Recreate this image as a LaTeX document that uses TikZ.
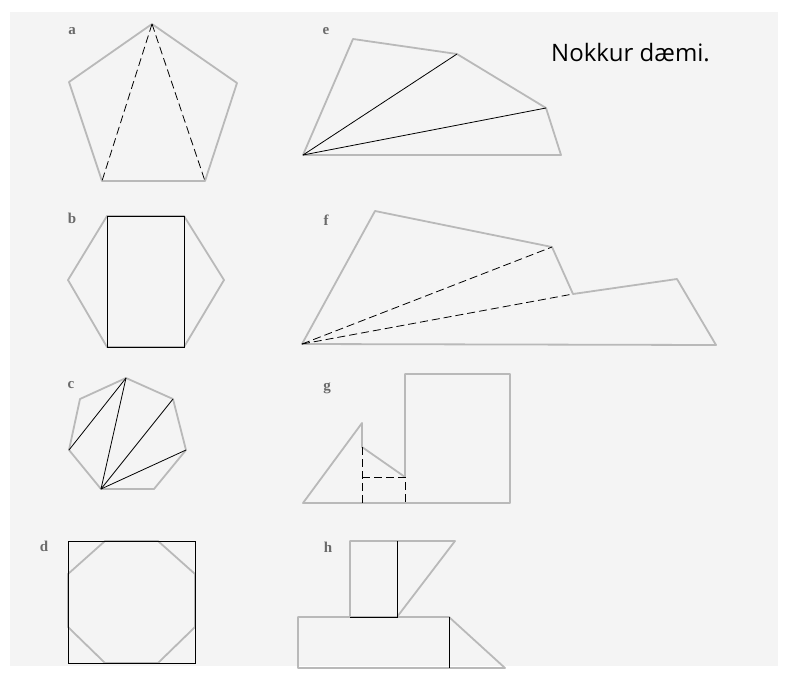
\documentclass[tikz,border=0pt]{standalone}
\usepackage{fontspec}
\newfontfamily\txtfont{Open Sans}
\newfontfamily\lblfont{Liberation Serif}
\definecolor{paper}{HTML}{F4F4F4}
\definecolor{outl}{HTML}{B9B9B9}
\definecolor{lbl}{HTML}{6A6A6A}
\tikzset{
  outline/.style={draw=outl, line width=1.8pt, line join=round},
  blk/.style={draw=black, line width=0.8pt},
  dsh/.style={draw=black, line width=0.8pt, dash pattern=on 8pt off 4pt},
  lab/.style={text=lbl, font=\lblfont\bfseries\fontsize{15}{16}\selectfont, inner sep=0pt},
}
\begin{document}
\begin{tikzpicture}[x=1pt,y=-1pt]
\useasboundingbox (0,0) rectangle (787,675);
\fill[white] (0,0) rectangle (787,675);
\fill[paper] (10,12) rectangle (778,666);

% a: pentagon
\coordinate (aT) at (152,24);
\coordinate (aL) at (69,82);
\coordinate (aR) at (237,83);
\coordinate (aBL) at (102,181);
\coordinate (aBR) at (205,181);
\draw[outline] (aT) -- (aR) -- (aBR) -- (aBL) -- (aL) -- cycle;
\draw[dsh] (aT) -- (aBL);
\draw[dsh] (aT) -- (aBR);
\node[lab] (la) at (72,31) {a};

% b: hexagon with rectangle
\coordinate (bTL) at (107,216);
\coordinate (bTR) at (184,216);
\coordinate (bR) at (224,280);
\coordinate (bBR) at (184,347);
\coordinate (bBL) at (107,347);
\coordinate (bL) at (68,280);
\draw[outline] (bTL) -- (bTR) -- (bR) -- (bBR) -- (bBL) -- (bL) -- cycle;
\draw[blk] (bTL) rectangle (bBR);
\node[lab] (lb) at (72,218) {b};

% c: heptagon
\coordinate (c1) at (126,378);
\coordinate (c2) at (173,399);
\coordinate (c3) at (186,450);
\coordinate (c4) at (154,489);
\coordinate (c5) at (101,489);
\coordinate (c6) at (69,450);
\coordinate (c7) at (80,399);
\draw[outline] (c1) -- (c2) -- (c3) -- (c4) -- (c5) -- (c6) -- (c7) -- cycle;
\draw[blk] (c5) -- (c1);
\draw[blk] (c5) -- (c2);
\draw[blk] (c5) -- (c3);
\draw[blk] (c1) -- (c6);
\node[lab] (lc) at (71,385) {c};

% d: octagon in square
\coordinate (dTL) at (68,541);
\coordinate (dBR) at (195,663);
\draw[outline] (105,541) -- (158,541) -- (195,574) -- (195,627) -- (158,663) -- (105,663) -- (68,627) -- (68,574) -- cycle;
\draw[blk] (dTL) rectangle (dBR);
\node[lab] (ld) at (44,546) {d};

% e
\coordinate (e0) at (303,155);
\coordinate (e1) at (353,39);
\coordinate (e2) at (457,54);
\coordinate (e3) at (546,108);
\coordinate (e4) at (561,155);
\draw[outline] (e0) -- (e1) -- (e2) -- (e3) -- (e4) -- cycle;
\draw[blk] (e0) -- (e2);
\draw[blk] (e0) -- (e3);
\node[lab] (le) at (326,31) {e};

\node[font=\txtfont\fontsize{24}{27}\selectfont, inner sep=0pt, anchor=base west] (title) at (551,61) {Nokkur dæmi.};

% f
\coordinate (f0) at (302,344);
\coordinate (f1) at (375,211);
\coordinate (f2) at (552,247);
\coordinate (f3) at (573,294);
\coordinate (f4) at (677,279);
\coordinate (f5) at (716,345);
\draw[outline] (f0) -- (f1) -- (f2) -- (f3) -- (f4) -- (f5) -- cycle;
\draw[dsh] (f0) -- (f2);
\draw[dsh] (f0) -- (f3);
\node[lab] (lf) at (326,220) {f};

% g
\coordinate (g0) at (303,503);
\coordinate (g1) at (362,423);
\coordinate (g2) at (362,447);
\coordinate (g3) at (405,477);
\coordinate (g4) at (405,374);
\coordinate (g5) at (510,374);
\coordinate (g6) at (510,503);
\coordinate (g7) at (362,503);
\coordinate (g8) at (405,503);
\coordinate (g9) at (362,477);
\draw[outline] (g0) -- (g1) -- (g2) -- (g3) -- (g4) -- (g5) -- (g6) -- cycle;
\draw[dsh] (g2) -- (g7);
\draw[dsh] (g9) -- (g3) -- (g8);
\node[lab] (lg) at (327,388) {g};

% h
\coordinate (h1) at (350,541);
\coordinate (h2) at (397,541);
\coordinate (h3) at (455,541);
\coordinate (h4) at (397,617);
\coordinate (h5) at (350,617);
\coordinate (h6) at (298,617);
\coordinate (h7) at (449,617);
\coordinate (h8) at (505,668);
\coordinate (h9) at (298,668);
\coordinate (h10) at (449,668);
\draw[outline] (h5) -- (h1) -- (h3) -- (h4);
\draw[outline] (h6) -- (h7) -- (h8) -- (h9) -- cycle;
\draw[blk] (h2) -- (h4) -- (h5);
\draw[blk] (h7) -- (h10);
\node[lab] (lh) at (328,547) {h};
\end{tikzpicture}
\end{document}
